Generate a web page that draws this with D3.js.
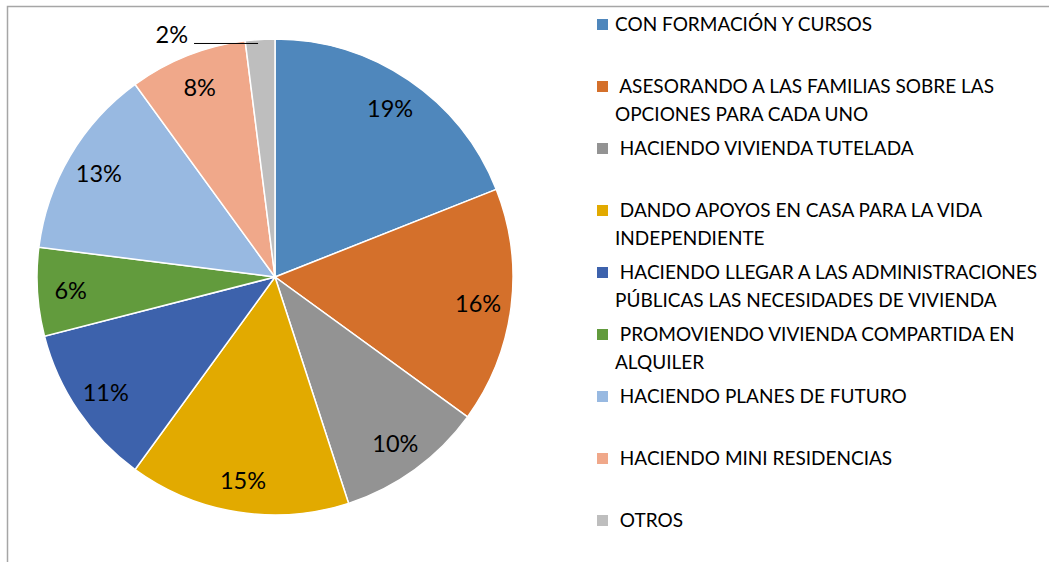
<!DOCTYPE html>
<html>
<head>
<meta charset="utf-8">
<script src="https://cdn.jsdelivr.net/npm/d3@7"></script>
<style>
  html, body { margin: 0; padding: 0; background: #fff; }
  svg { display: block; font-family: Lato, "Open Sans", sans-serif; }
</style>
</head>
<body>
<svg id="chart" width="1049" height="562"></svg>
<script>
// Categories (legend order = slice order, clockwise from 12 o'clock)
const categories = [
  ["CON FORMACIÓN Y CURSOS"],
  [" ASESORANDO A LAS FAMILIAS SOBRE LAS", "OPCIONES PARA CADA UNO"],
  [" HACIENDO VIVIENDA TUTELADA"],
  [" DANDO APOYOS EN CASA PARA LA VIDA", "INDEPENDIENTE"],
  [" HACIENDO LLEGAR A LAS ADMINISTRACIONES", "PÚBLICAS LAS NECESIDADES DE VIVIENDA"],
  [" PROMOVIENDO VIVIENDA COMPARTIDA EN", "ALQUILER"],
  [" HACIENDO PLANES DE FUTURO"],
  [" HACIENDO MINI RESIDENCIAS"],
  [" OTROS"]
];
// Percentages shown on each slice
const values = [19, 16, 10, 15, 11, 6, 13, 8, 2];
const colors = ["#4f87bc", "#d4702b", "#939393", "#e2aa00", "#3d62ac",
                "#629b3d", "#98b9e1", "#f0a88a", "#bebebe"];

const svg = d3.select("#chart");

// Outer frame
svg.append("rect")
  .attr("x", 7.5).attr("y", 6.5)
  .attr("width", 1100).attr("height", 600)
  .attr("fill", "none").attr("stroke", "#a6a6a6").attr("stroke-width", 1.5);

const cx = 275, cy = 277, R = 238;
const g = svg.append("g").attr("transform", `translate(${cx},${cy})`);

const pie = d3.pie().sort(null).value(d => d);
const arcs = pie(values);
const arc = d3.arc().innerRadius(0).outerRadius(R);
const labelArc = d3.arc().innerRadius(R * 0.86).outerRadius(R * 0.86);

g.selectAll("path.slice")
  .data(arcs)
  .join("path")
  .attr("class", "slice")
  .attr("d", arc)
  .attr("fill", (d, i) => colors[i])
  .attr("stroke", "#fff")
  .attr("stroke-width", 1.5);

// Labels inside slices (the smallest one goes outside with a leader line)
const inside = arcs.filter(d => d.data >= 5);
g.selectAll("text.pct")
  .data(inside)
  .join("text")
  .attr("class", "pct")
  .attr("transform", d => `translate(${labelArc.centroid(d)})`)
  .attr("text-anchor", "middle")
  .attr("dy", "0.4em")
  .attr("font-size", 23.5)
  .attr("fill", "#000")
  .text(d => d.data + "%");

const small = arcs.filter(d => d.data < 5);
small.forEach(d => {
  const mid = (d.startAngle + d.endAngle) / 2;
  const ex = Math.sin(mid) * R, ey = -Math.cos(mid) * R;
  const lineY = ey + 4;
  g.append("line")
    .attr("x1", ex - 2).attr("y1", lineY)
    .attr("x2", ex - 66).attr("y2", lineY)
    .attr("stroke", "#000").attr("stroke-width", 1);
  g.append("text")
    .attr("x", ex - 72).attr("y", lineY)
    .attr("text-anchor", "end")
    .attr("font-size", 23.5)
    .attr("fill", "#000")
    .text(d.data + "%");
});

// Legend
const legend = svg.append("g").attr("transform", "translate(597,31)");
const item = legend.selectAll("g.item")
  .data(categories)
  .join("g")
  .attr("class", "item")
  .attr("transform", (d, i) => `translate(0,${i * 62})`);

item.append("rect")
  .attr("x", 0).attr("y", -12)
  .attr("width", 11).attr("height", 11)
  .attr("fill", (d, i) => colors[i]);

item.each(function(lines) {
  const t = d3.select(this).append("text")
    .attr("font-size", 19)
    .attr("fill", "#000")
    .attr("xml:space", "preserve");
  lines.forEach((ln, j) => {
    t.append("tspan")
      .attr("x", 18)
      .attr("y", j * 28)
      .text(ln);
  });
});
</script>
</body>
</html>
